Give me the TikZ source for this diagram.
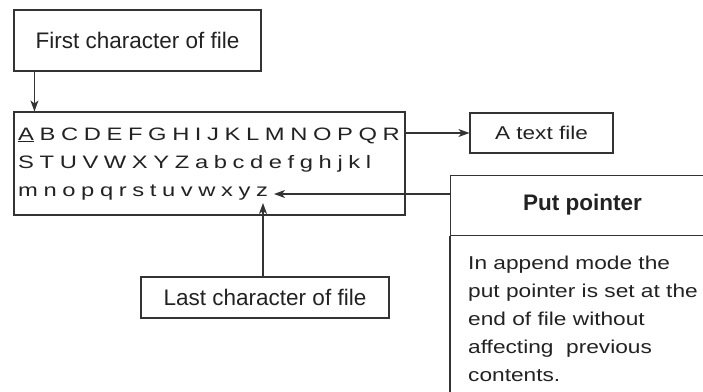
\documentclass[tikz,border=0pt]{standalone}
\usepackage{fontspec}
\setmainfont{Liberation Sans}
\newfontfamily\widesf[FakeStretch=1.22]{Liberation Sans}
\newfontfamily\widersf[FakeStretch=1.32]{Liberation Sans}
\usetikzlibrary{arrows.meta}
\definecolor{linegray}{HTML}{333333}
\definecolor{textgray}{HTML}{222222}
% gap between the spaced-out letters of the file contents
\newcommand\lsp{\hspace{5.6pt}}

\begin{document}
\begin{tikzpicture}[x=1pt,y=-1pt,
  line/.style={draw=linegray, line width=1.1pt},
  arr/.style={line, -{Stealth[length=11pt,width=8pt,inset=3pt]}},
  plainbox/.style={line, inner sep=0pt, text=textgray},
  labelbox/.style={plainbox, font=\fontsize{22.5}{27}\selectfont},
  rowtext/.style={anchor=base west, inner sep=0pt, text=textgray,
    font=\widersf\fontsize{18}{20}\selectfont},
  bodytext/.style={anchor=base west, inner sep=0pt, text=textgray,
    font=\widesf\fontsize{18.6}{22}\selectfont}
]
\useasboundingbox (0,0) rectangle (703,391);
\clip (0,0) rectangle (703,391);

% label above the file
\node[labelbox, minimum width=247pt, minimum height=61pt] (first) at (137.5,40.5) {First character of file};

% the file and its contents
\node[plainbox, minimum width=391pt, minimum height=103pt] (main) at (209.5,163.5) {};
\node[rowtext] (row1) at (18,140) {\underline{A}\lsp B\lsp C\lsp D\lsp E\lsp F\lsp G\lsp H\lsp I\lsp J\lsp K\lsp L\lsp M\lsp N\lsp O\lsp P\lsp Q\lsp R};
\node[rowtext] (row2) at (18,168) {S\lsp T\lsp U\lsp V\lsp W\lsp X\lsp Y\lsp Z\lsp a\lsp b\lsp c\lsp d\lsp e\lsp f\lsp g\lsp h\lsp j\lsp k\lsp l};
\node[rowtext] (row3) at (18,196) {m\lsp n\lsp o\lsp p\lsp q\lsp r\lsp s\lsp t\lsp u\lsp v\lsp w\lsp x\lsp y\lsp z};

% side label
\node[plainbox, minimum width=143pt, minimum height=40pt,
  font=\widesf\fontsize{18.5}{22}\selectfont] (tfile) at (541.5,133) {A text file};

% put pointer panel (runs off the right and bottom edges)
\node[line, inner sep=0pt, minimum width=320pt, minimum height=60pt, anchor=north west] (pphead) at (450,175) {};
\coordinate (ppfoot) at (450,400);
\draw[line] (pphead.south west) -- (ppfoot);
\node[inner sep=0pt, text=textgray, font=\bfseries\fontsize{22.5}{27}\selectfont] (pptitle) at (582.5,204.5) {Put pointer};
\node[bodytext] (body1) at (468,269) {In append mode the};
\node[bodytext] (body2) at (468,297) {put pointer is set at the};
\node[bodytext] (body3) at (468,325) {end of file without};
\node[bodytext] (body4) at (468,353) {affecting~ previous};
\node[bodytext] (body5) at (468,381) {contents.};

% label below the file
\node[labelbox, minimum width=248pt, minimum height=41pt] (last) at (265,297.5) {Last character of file};

% connectors
\coordinate (zpt) at (274,194);
\coordinate (zbot) at (263,203);
\draw[arr] ([xshift=21pt]first.south west) -- ([xshift=21pt]main.north west);
\draw[arr] (main.east |- tfile.west) -- (tfile.west);
\draw[arr] (pphead.west |- zpt) -- (zpt);
\draw[arr] (zbot |- last.north) -- (zbot);
\end{tikzpicture}
\end{document}
